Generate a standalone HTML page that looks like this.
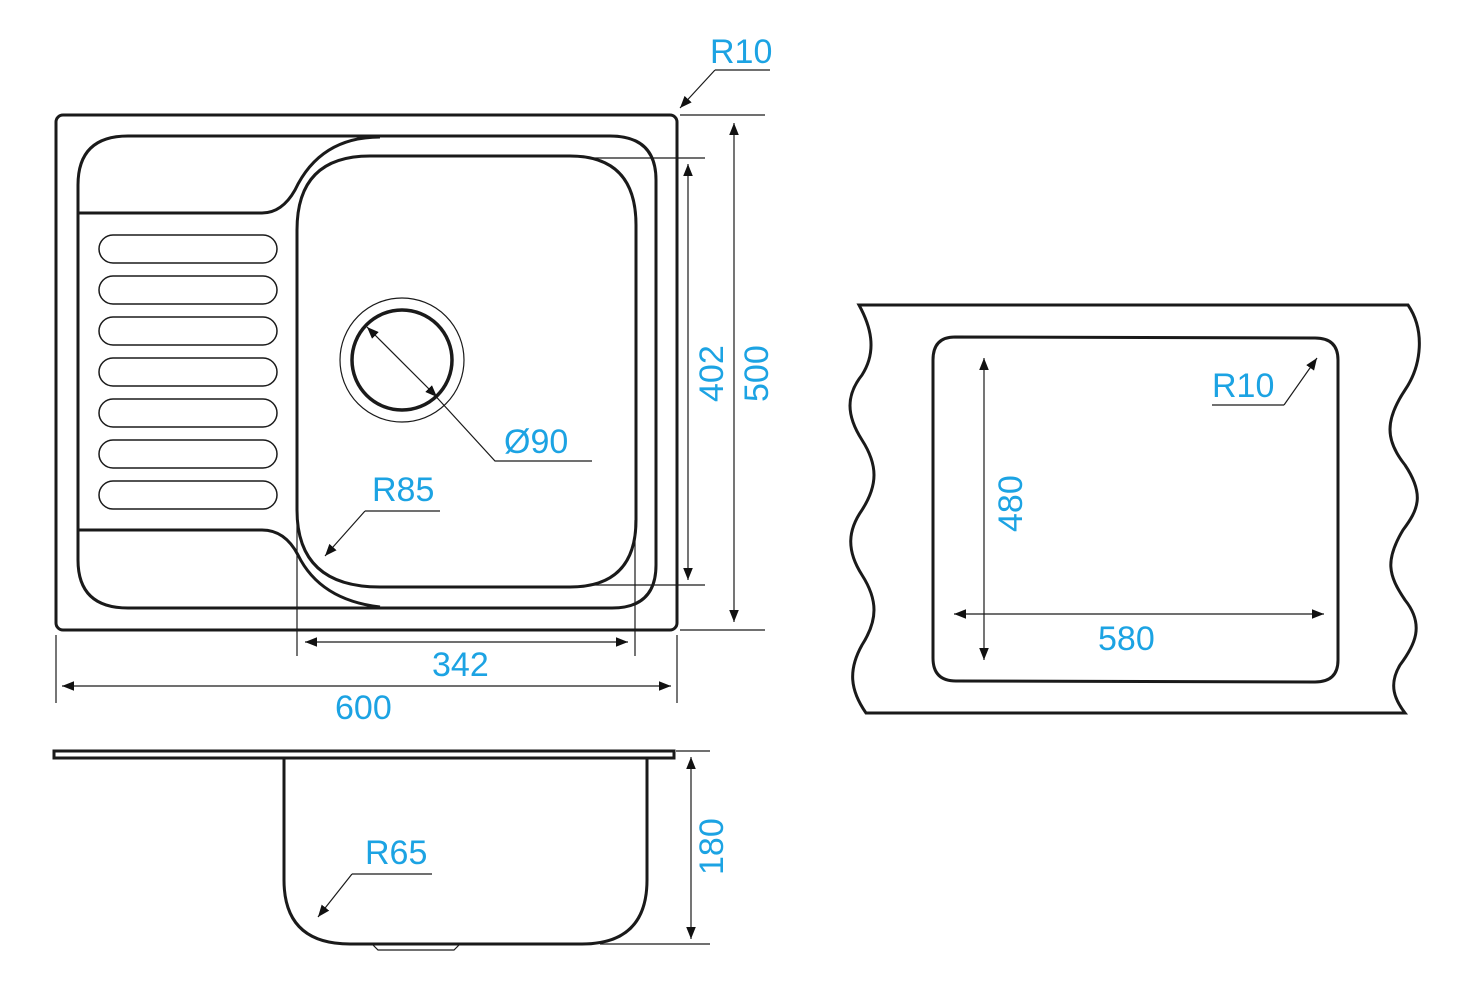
<!DOCTYPE html>
<html><head><meta charset="utf-8"><style>
html,body{margin:0;padding:0;background:#fff}
svg{display:block}
text{font-family:"Liberation Sans","DejaVu Sans",sans-serif;fill:#1ca3e3;font-size:34px}
</style></head><body>
<svg width="1463" height="1000" viewBox="0 0 1463 1000" xmlns="http://www.w3.org/2000/svg">
<defs>
<marker id="a" viewBox="0 0 10 10" refX="10" refY="5" markerWidth="12" markerHeight="12" markerUnits="userSpaceOnUse" orient="auto-start-reverse"><path d="M0,1 L10,5 L0,9 z" fill="#111"/></marker>
</defs>
<g fill="none" stroke="#1a1a1a">
<!-- top view outer -->
<rect x="56" y="115" width="621" height="515" rx="7" stroke-width="3"/>
<!-- tray outline -->
<path d="M78,215 L78,185 Q78,136 128,136 L610,136 Q656,136 656,180 L656,565 Q656,608 612,608 L128,608 Q78,608 78,560 L78,215" stroke-width="3"/>
<path d="M78,213 L262,213 Q282,213 295,190 Q320,137 380,137" stroke-width="3"/>
<path d="M78,530 L262,530 Q285,530 298,555 Q320,600 380,607" stroke-width="3"/>
<!-- inner bowl -->
<path d="M297,230 Q297,156 370,156 L570,156 Q636,156 636,225 L636,520 Q636,587 570,587 L380,587 Q297,587 297,510 Z" stroke-width="3"/>
<!-- ribs -->
<g stroke-width="1.5">
<rect x="99" y="235" width="178" height="28" rx="14"/>
<rect x="99" y="276" width="178" height="28" rx="14"/>
<rect x="99" y="317" width="178" height="28" rx="14"/>
<rect x="99" y="358" width="178" height="28" rx="14"/>
<rect x="99" y="399" width="178" height="28" rx="14"/>
<rect x="99" y="440" width="178" height="28" rx="14"/>
<rect x="99" y="481" width="178" height="28" rx="14"/>
</g>
<!-- drain -->
<circle cx="402" cy="360" r="62" stroke-width="1.2"/>
<circle cx="402" cy="360" r="50" stroke-width="3.5"/>
<!-- dims top view -->
<g stroke-width="1.2">
<line x1="367" y1="327" x2="437" y2="397" marker-start="url(#a)" marker-end="url(#a)"/>
<polyline points="430,390 495,461 592,461"/>
<line x1="325" y1="556" x2="365" y2="511" marker-start="url(#a)"/>
<line x1="365" y1="511" x2="440" y2="511"/>
<line x1="680" y1="108" x2="715" y2="70" marker-start="url(#a)"/>
<line x1="715" y1="70" x2="770" y2="70"/>
<line x1="680" y1="115" x2="765" y2="115"/>
<line x1="680" y1="630" x2="765" y2="630"/>
<line x1="734" y1="123" x2="734" y2="622" marker-start="url(#a)" marker-end="url(#a)"/>
<line x1="590" y1="158" x2="705" y2="158"/>
<line x1="590" y1="585" x2="705" y2="585"/>
<line x1="688" y1="164" x2="688" y2="580" marker-start="url(#a)" marker-end="url(#a)"/>
<line x1="297" y1="520" x2="297" y2="656"/>
<line x1="635" y1="520" x2="635" y2="656"/>
<line x1="305" y1="642" x2="628" y2="642" marker-start="url(#a)" marker-end="url(#a)"/>
<line x1="56" y1="635" x2="56" y2="703"/>
<line x1="677" y1="635" x2="677" y2="703"/>
<line x1="62" y1="686" x2="671" y2="686" marker-start="url(#a)" marker-end="url(#a)"/>
</g>
<!-- side view -->
<rect x="54" y="751" width="620" height="7" stroke-width="3"/>
<path d="M284,758 L284,880 Q284,944 350,944 L582,944 Q647,944 647,880 L647,758" stroke-width="3"/>
<path d="M372,944 L378,950 L454,950 L460,944" stroke-width="1.2"/>
<g stroke-width="1.2">
<line x1="676" y1="751" x2="710" y2="751"/>
<line x1="600" y1="944" x2="710" y2="944"/>
<line x1="691" y1="757" x2="691" y2="939" marker-start="url(#a)" marker-end="url(#a)"/>
<line x1="318" y1="917" x2="352" y2="874" marker-start="url(#a)"/>
<line x1="352" y1="874" x2="432" y2="874"/>
</g>
<!-- cutout view -->
<path d="M859,305 L1408,305 C1425,330 1422,365 1405,390 C1385,420 1385,440 1405,465 C1425,495 1418,510 1403,530 C1385,560 1388,575 1405,600 C1425,625 1415,645 1400,665 C1388,685 1395,700 1405,713 L866,713 C850,690 848,670 862,645 C878,620 878,600 862,575 C846,550 848,530 862,510 C878,485 878,465 862,440 C846,415 846,395 862,375 C878,350 870,325 859,305 Z" stroke-width="3"/>
<path d="M955,337 L1315,338 Q1338,338 1338,360 L1338,660 Q1338,682 1315,682 L956,681 Q933,681 933,658 L933,360 Q933,337 955,337 Z" stroke-width="3"/>
<g stroke-width="1.2">
<line x1="984" y1="358" x2="984" y2="660" marker-start="url(#a)" marker-end="url(#a)"/>
<line x1="954" y1="614" x2="1324" y2="614" marker-start="url(#a)" marker-end="url(#a)"/>
<line x1="1284" y1="405" x2="1317" y2="358" marker-end="url(#a)"/>
<line x1="1212" y1="405" x2="1284" y2="405"/>
</g>
</g>
<text x="710" y="63">R10</text>
<text x="504" y="453">Ø90</text>
<text x="372" y="501">R85</text>
<text x="432" y="676">342</text>
<text x="335" y="719">600</text>
<text x="365" y="864">R65</text>
<text x="1212" y="397">R10</text>
<text x="1098" y="650">580</text>
<text transform="translate(723,402) rotate(-90)">402</text>
<text transform="translate(768,402) rotate(-90)">500</text>
<text transform="translate(723,875) rotate(-90)">180</text>
<text transform="translate(1022,532) rotate(-90)">480</text>
</svg>
</body></html>
